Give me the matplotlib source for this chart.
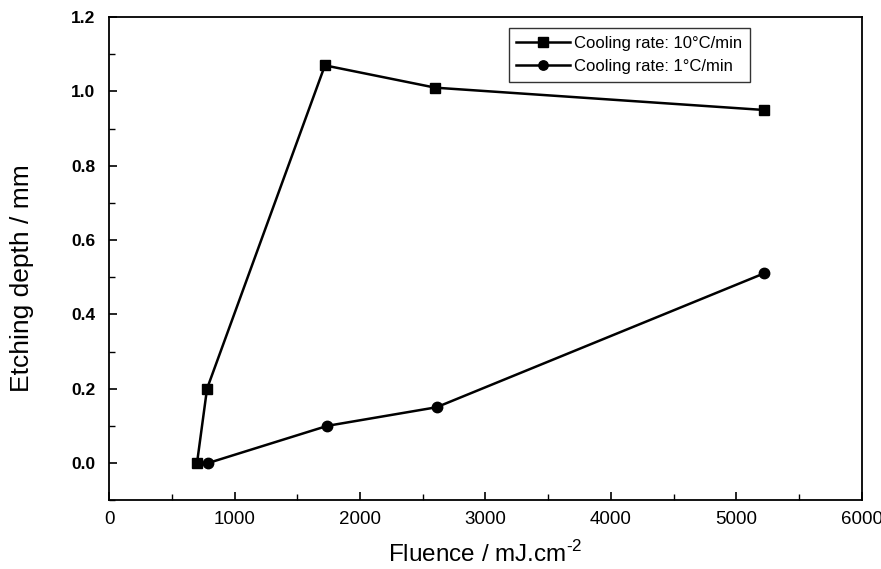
import numpy as np
import matplotlib
matplotlib.use('Agg')
import matplotlib.pyplot as plt
from matplotlib.ticker import MultipleLocator

plt.rcParams['font.family'] = ['Liberation Sans', 'DejaVu Sans']
plt.rcParams['mathtext.fontset'] = 'custom'
plt.rcParams['mathtext.rm'] = 'Liberation Sans'

# dados
fluence_10 = [700, 780, 1720, 2600, 5220]
depth_10 = [0.0, 0.20, 1.07, 1.01, 0.95]
fluence_1 = [790, 1740, 2610, 5220]
depth_1 = [0.0, 0.10, 0.15, 0.51]
y_ticks = [0.0, 0.2, 0.4, 0.6, 0.8, 1.0, 1.2]

fig = plt.figure(figsize=(8.81, 5.69), dpi=100)
ax = fig.add_axes([0.124, 0.121, 0.854, 0.849])

ax.plot(fluence_10, depth_10, color='black', lw=1.8, marker='s', ms=7.5,
        label='Cooling rate: 10°C/min')
ax.plot(fluence_1, depth_1, color='black', lw=1.8, marker='o', ms=7.5,
        label='Cooling rate: 1°C/min')

ax.set_xlim(0, 6000)
ax.set_ylim(-0.1, 1.2)
ax.xaxis.set_major_locator(MultipleLocator(1000))
ax.xaxis.set_minor_locator(MultipleLocator(500))
ax.yaxis.set_minor_locator(MultipleLocator(0.1))
ax.set_yticks(y_ticks)
ax.set_yticklabels(['%.1f' % v for v in y_ticks], fontweight='bold')
ax.tick_params(which='both', direction='in', top=False, right=False)
ax.tick_params(which='major', length=6, width=1.2)
ax.tick_params(which='minor', length=4, width=1.0)
ax.tick_params(axis='x', labelsize=13.5, pad=8)
ax.tick_params(axis='y', labelsize=12.5, pad=10)
for s in ax.spines.values():
    s.set_linewidth(1.3)

ax.set_xlabel('Fluence / mJ.cm$^{\\text{-2}}$', fontsize=17.5, labelpad=9)
ax.set_ylabel('Etching depth / mm', fontsize=19)
ax.yaxis.set_label_coords(-0.100, 0.46)

leg = ax.legend(loc='upper right', bbox_to_anchor=(0.851, 0.977), borderaxespad=0,
                fontsize=12, frameon=True, fancybox=False, edgecolor='black',
                handlelength=3.2, handletextpad=0.25, borderpad=0.45,
                labelspacing=0.5, markerscale=0.9)
leg.get_frame().set_linewidth(1.0)

plt.savefig('out.png', dpi=100)
